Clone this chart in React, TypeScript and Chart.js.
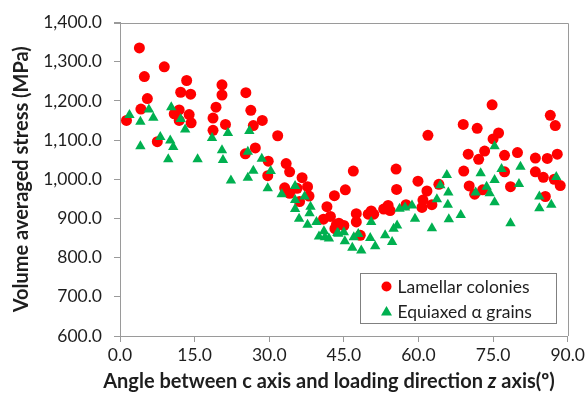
import React, { useEffect, useRef } from "react";
import { Chart, registerables } from "chart.js";
Chart.register(...registerables);

const seriesNames = ["Lamellar colonies", "Equiaxed α grains"];

const lamellarAngle = [
  1.3, 3.9, 4.2, 4.9, 5.5, 7.5, 8.9, 10.9, 11.9, 11.9, 12.2, 13.4, 13.9, 14.2, 14.3,
  18.7, 18.7, 19.3, 20.5, 20.5, 21.2, 25.2, 25.3, 26.3, 26.8, 27.2, 28.6, 29.7, 29.8,
  31.7, 33.1, 33.4, 34.1, 34.1, 35.6, 36.1, 36.6, 37.7, 38.0, 40.9, 41.6, 42.3, 43.1,
  43.2, 43.5, 44.0, 45.0, 45.3, 46.9, 47.5, 47.5, 48.3, 49.9, 50.5, 51.0, 53.0, 53.9,
  54.3, 55.5, 55.6, 57.5, 59.9, 60.7, 60.9, 61.7, 61.9, 62.7, 64.1, 69.0, 69.1, 70.0,
  70.2, 71.3, 71.8, 72.1, 72.9, 73.3, 74.8, 75.0, 76.1, 77.3, 77.3, 78.5, 79.9, 83.5,
  83.5, 85.1, 85.5, 85.9, 86.5, 87.3, 87.5, 87.9, 88.5,
];
const lamellarStress = [
  1150, 1335, 1179, 1262, 1206, 1096, 1287, 1167, 1177, 1150, 1222, 1252, 1165, 1217, 1144,
  1156, 1125, 1184, 1241, 1215, 1140, 1065, 1221, 1176, 1137, 1080, 1150, 1009, 1046,
  1111, 978, 1040, 1019, 964, 977, 943, 1004, 981, 957, 898, 930, 905, 958,
  874, 884, 888, 882, 973, 1021, 912, 891, 857, 911, 919, 911, 924, 933,
  920, 1026, 974, 935, 995, 928, 947, 970, 1112, 935, 987, 1140, 1021, 1064,
  983, 962, 1130, 1051, 973, 1072, 1190, 1103, 1118, 1061, 1019, 981, 1068, 1054,
  1019, 1005, 956, 1053, 1163, 1000, 1137, 1064, 984,
];

const equiaxedAngle = [
  1.9, 4.1, 4.1, 5.8, 6.7, 8.1, 9.7, 10.1, 10.3, 10.7, 12.2, 13.1, 15.6, 18.5, 20.5,
  20.7, 21.7, 22.3, 26.0, 25.7, 28.5, 26.8, 25.7, 30.3, 29.7, 32.5, 35.2, 37.1, 35.2,
  38.3, 35.2, 38.1, 36.0, 37.7, 39.5, 40.0, 41.2, 41.0, 43.7, 42.0, 43.9, 45.0, 45.2,
  47.0, 47.9, 46.7, 48.5, 50.3, 51.3, 50.5, 53.3, 54.7, 55.0, 55.7, 56.2, 57.3, 58.7,
  59.3, 62.7, 63.7, 64.4, 65.9, 65.7, 66.1, 66.0, 68.5, 71.5, 72.5, 73.7, 74.3, 75.3,
  75.3, 75.3, 76.7, 78.5, 80.2, 80.5, 84.3, 84.3, 86.7, 87.7,
];
const equiaxedStress = [
  1164, 1147, 1084, 1178, 1157, 1108, 1051, 1099, 1184, 1082, 1154, 1127, 1051, 1105, 1074,
  1049, 1118, 997, 1123, 1070, 1052, 1022, 1004, 1021, 977, 962, 983, 956, 947,
  930, 924, 913, 899, 884, 891, 854, 852, 867, 863, 849, 861, 865, 842,
  852, 860, 825, 818, 850, 829, 891, 857, 840, 874, 882, 925, 928, 933,
  899, 875, 949, 985, 935, 1011, 898, 966, 909, 966, 1015, 981, 964, 1084,
  998, 941, 1026, 888, 988, 1032, 956, 926, 935, 1006,
];

const xTickValues = [0, 15, 30, 45, 60, 75, 90];
const yTickValues = [600, 700, 800, 900, 1000, 1100, 1200, 1300, 1400];

const xTitleParts = [
  { text: "Angle between c axis and loading direction ", italic: false },
  { text: "z", italic: true },
  { text: " axis(º)", italic: false },
];
const yTitle = "Volume averaged stress (MPa)";

const FONT = "Lato, 'Noto Sans', sans-serif";
const AXIS_GRAY = "#9a9a9a";
const TEXT = "#1e1e1e";

const decorPlugin = {
  id: "decor",
  afterDraw(chart: any) {
    const { ctx, chartArea } = chart;
    ctx.save();
    // plot border (top + right)
    ctx.strokeStyle = AXIS_GRAY;
    ctx.lineWidth = 1;
    ctx.beginPath();
    ctx.moveTo(chartArea.left - 6, Math.round(chartArea.top) + 0.5);
    ctx.lineTo(Math.round(chartArea.right) + 0.5, Math.round(chartArea.top) + 0.5);
    ctx.lineTo(Math.round(chartArea.right) + 0.5, chartArea.bottom);
    ctx.stroke();

    // x axis title with italic z
    const size = 20;
    ctx.fillStyle = TEXT;
    ctx.textBaseline = "middle";
    ctx.textAlign = "left";
    let total = 0;
    for (const p of xTitleParts) {
      ctx.font = `${p.italic ? "italic " : ""}bold ${size}px ${FONT}`;
      total += ctx.measureText(p.text).width;
    }
    let x = 329 - total / 2;
    const y = 382;
    for (const p of xTitleParts) {
      ctx.font = `${p.italic ? "italic " : ""}bold ${size}px ${FONT}`;
      ctx.fillText(p.text, x, y);
      x += ctx.measureText(p.text).width;
    }

    // legend
    const bw = 196, bh = 50;
    const bx = Math.round(chartArea.right - 12 - bw) + 0.5;
    const by = Math.round(chartArea.bottom - 13 - bh) + 0.5;
    ctx.fillStyle = "#ffffff";
    ctx.fillRect(bx, by, bw, bh);
    ctx.strokeStyle = "#808080";
    ctx.strokeRect(bx, by, bw, bh);
    ctx.font = `17.5px ${FONT}`;
    chart.data.datasets.forEach((ds: any, i: number) => {
      const cy = by + 13 + i * 25;
      const mx = bx + 26;
      ctx.fillStyle = ds.backgroundColor;
      ctx.beginPath();
      if (ds.pointStyle === "triangle") {
        ctx.moveTo(mx, cy - 5.5);
        ctx.lineTo(mx + 5.5, cy + 4);
        ctx.lineTo(mx - 5.5, cy + 4);
        ctx.closePath();
      } else {
        ctx.arc(mx, cy, 5, 0, Math.PI * 2);
      }
      ctx.fill();
      ctx.fillStyle = TEXT;
      ctx.fillText(ds.label, bx + 37, cy + 1);
    });
    ctx.restore();
  },
};

export default function App() {
  const ref = useRef<HTMLCanvasElement | null>(null);
  useEffect(() => {
    document.body.style.margin = "0";
    const canvas = ref.current;
    if (!canvas) return;
    const chart = new Chart(canvas, {
      type: "scatter",
      data: {
        datasets: [
          {
            label: seriesNames[0],
            data: lamellarAngle.map((a, i) => ({ x: a, y: lamellarStress[i] })),
            backgroundColor: "#FF0000",
            borderWidth: 0,
            pointStyle: "circle",
            pointRadius: 5.5,
            order: 2,
          },
          {
            label: seriesNames[1],
            data: equiaxedAngle.map((a, i) => ({ x: a, y: equiaxedStress[i] })),
            backgroundColor: "#00B050",
            borderWidth: 0,
            pointStyle: "triangle",
            pointRadius: 6,
            order: 1,
          },
        ],
      },
      options: {
        animation: false,
        responsive: false,
        layout: { padding: { left: 0, right: 18, top: 19, bottom: 0 } },
        plugins: { legend: { display: false }, tooltip: { enabled: false } },
        scales: {
          x: {
            type: "linear",
            min: 0,
            max: 90,
            afterFit: (s: any) => { s.height = 72; },
            afterBuildTicks: (s: any) => { s.ticks = xTickValues.map((v) => ({ value: v })); },
            ticks: {
              font: { family: FONT, size: 17.5 },
              color: TEXT,
              padding: 3,
              maxRotation: 0,
              callback: (v: any) => Number(v).toFixed(1),
            },
            grid: { drawOnChartArea: false, drawTicks: true, tickLength: 6, color: AXIS_GRAY },
            border: { display: true, color: AXIS_GRAY, width: 1 },
          },
          y: {
            type: "linear",
            min: 600,
            max: 1400,
            afterFit: (s: any) => { s.width = 120; },
            afterBuildTicks: (s: any) => { s.ticks = yTickValues.map((v) => ({ value: v })); },
            ticks: {
              font: { family: FONT, size: 17.5 },
              color: TEXT,
              padding: 12,
              callback: (v: any) =>
                Number(v).toLocaleString("en-US", { minimumFractionDigits: 1, maximumFractionDigits: 1 }),
            },
            grid: { drawOnChartArea: false, drawTicks: true, tickLength: 6, color: AXIS_GRAY },
            border: { display: true, color: AXIS_GRAY, width: 1 },
            title: {
              display: true,
              text: yTitle,
              font: { family: FONT, size: 20, weight: "bold" },
              color: TEXT,
              padding: { top: 10, bottom: 0 },
            },
          },
        },
      },
      plugins: [decorPlugin],
    } as any);
    return () => chart.destroy();
  }, []);
  return (
    <div style={{ width: 588, height: 408 }}>
      <canvas ref={ref} width={588} height={408} />
    </div>
  );
}
